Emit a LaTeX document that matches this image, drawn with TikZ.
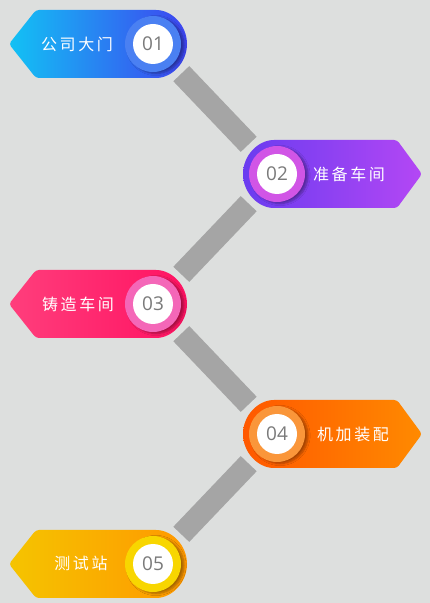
\documentclass[tikz,border=0pt]{standalone}
\usepackage{fontspec}
\setmainfont{Open Sans}
\newfontfamily\cjk[LetterSpace=16]{Noto Sans CJK SC}
\usetikzlibrary{shadows.blur}
\definecolor{bg}{HTML}{DDDFDE}
\definecolor{barGray}{HTML}{A5A5A5}
\definecolor{numGray}{HTML}{7A7A7A}
\definecolor{aL}{HTML}{12C2F4}\definecolor{aR}{HTML}{3E44F0}\definecolor{aRing}{HTML}{4A80F2}
\definecolor{bL}{HTML}{6A3CF0}\definecolor{bR}{HTML}{B447F4}\definecolor{bRing}{HTML}{D155E6}
\definecolor{cL}{HTML}{FF3E7C}\definecolor{cR}{HTML}{FF1262}\definecolor{cRing}{HTML}{F467B8}
\definecolor{dL}{HTML}{FF5800}\definecolor{dR}{HTML}{FF8A00}\definecolor{dRing}{HTML}{FA963A}
\definecolor{eL}{HTML}{F5C400}\definecolor{eR}{HTML}{FF9800}\definecolor{eRing}{HTML}{F8D600}
\begin{document}
\begin{tikzpicture}[x=1pt,y=1pt,
  bar/.style={line width=22pt, draw=barGray, shorten <=41pt, shorten >=41pt},
  tagbox/.style={rounded corners=3pt},
  ring/.style={circle, minimum size=56pt, inner sep=0pt, blur shadow={shadow xshift=3pt, shadow yshift=-1.5pt, shadow blur steps=6, shadow opacity=35}},
  disc/.style={circle, fill=white, minimum size=40pt, inner sep=0pt, font=\fontsize{19}{19}\selectfont, text=numGray},
  lbl/.style={font=\cjk\fontsize{16}{16}\selectfont, text=white}]
\fill[bg] (0,0) rectangle (430,603);
\useasboundingbox (0,0) rectangle (430,603);
\coordinate (c1) at (153,559);
\coordinate (c2) at (277,429);
\coordinate (c3) at (153,299);
\coordinate (c4) at (277,169);
\coordinate (c5) at (153,39);
% connectors
\draw[bar] (c1) -- (c2);
\draw[bar] (c2) -- (c3);
\draw[bar] (c3) -- (c4);
\draw[bar] (c4) -- (c5);
% tag 1
\path[tagbox, left color=aL, right color=aR] (36,593) -- (153,593) arc[start angle=90, end angle=-90, radius=34] -- (36,525) -- (9,559) -- cycle;
\node[ring, fill=aRing] (r1) at (c1) {};
\node[disc] (n1) at (c1) {01};
\node[lbl] (t1) at (77,559) {公司大门};
% tag 2
\path[tagbox, left color=bL, right color=bR] (397,463) -- (422,429) -- (397,395) -- (277,395) arc[start angle=270, end angle=90, radius=34] -- cycle;
\node[ring, fill=bRing] (r2) at (c2) {};
\node[disc] (n2) at (c2) {02};
\node[lbl] (t2) at (349,429) {准备车间};
% tag 3
\path[tagbox, left color=cL, right color=cR] (36,333) -- (153,333) arc[start angle=90, end angle=-90, radius=34] -- (36,265) -- (9,299) -- cycle;
\node[ring, fill=cRing] (r3) at (c3) {};
\node[disc] (n3) at (c3) {03};
\node[lbl] (t3) at (78,299) {铸造车间};
% tag 4
\path[tagbox, left color=dL, right color=dR] (397,203) -- (422,169) -- (397,135) -- (277,135) arc[start angle=270, end angle=90, radius=34] -- cycle;
\node[ring, fill=dRing] (r4) at (c4) {};
\node[disc] (n4) at (c4) {04};
\node[lbl] (t4) at (353,169) {机加装配};
% tag 5
\path[tagbox, left color=eL, right color=eR] (36,73) -- (153,73) arc[start angle=90, end angle=-90, radius=34] -- (36,5) -- (9,39) -- cycle;
\node[ring, fill=eRing] (r5) at (c5) {};
\node[disc] (n5) at (c5) {05};
\node[lbl] (t5) at (81,40) {测试站};
\end{tikzpicture}
\end{document}
